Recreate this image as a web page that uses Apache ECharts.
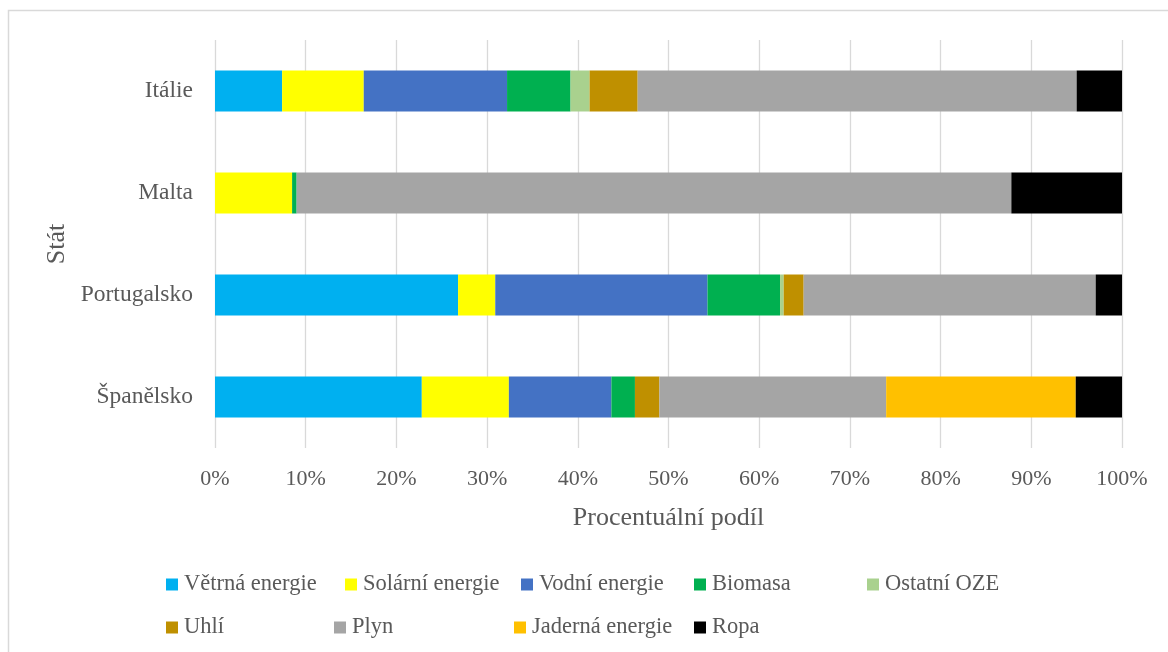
<!DOCTYPE html>
<html>
<head>
<meta charset="utf-8">
<title>Podíl zdrojů energie</title>
<script src="https://cdn.jsdelivr.net/npm/echarts@6/dist/echarts.min.js"></script>
<style>
  html, body { margin: 0; padding: 0; background: #fff; }
  #chart { width: 1168px; height: 652px; }
</style>
</head>
<body>
<div id="chart"></div>
<script>
// kategorie (shora dolů)
var states = ["Itálie", "Malta", "Portugalsko", "Španělsko"];
var tickLabels = ["0%", "10%", "20%", "30%", "40%", "50%", "60%", "70%", "80%", "90%", "100%"];

// podíly v %, pořadí jako states
var vetrna   = [7.4, 0,    26.8, 22.8];
var solarni  = [9.0, 8.5,  4.1,  9.6];
var vodni    = [15.8, 0,   23.4, 11.3];
var biomasa  = [7.0, 0.5,  8.0,  2.6];
var ostatni  = [2.1, 0,    0.4,  0];
var uhli     = [5.3, 0,    2.2,  2.7];
var plyn     = [48.4, 78.8, 32.2, 25.0];
var jaderna  = [0,   0,    0,    20.9];
var ropa     = [5.0, 12.2, 2.9,  5.1];

var seriesNames = ["Větrná energie", "Solární energie", "Vodní energie", "Biomasa", "Ostatní OZE",
  "Uhlí", "Plyn", "Jaderná energie", "Ropa"];
var seriesData = [vetrna, solarni, vodni, biomasa, ostatni, uhli, plyn, jaderna, ropa];
var colors = ["#00B0F0", "#FFFF00", "#4472C4", "#00B050", "#A9D18E", "#BF9000", "#A5A5A5", "#FFC000", "#000000"];

var font = "Liberation Serif";
var textColor = "#595959";

// rozmístění legendy (jako v Excelu - dva řádky)
var legendPos = [
  [166, 573], [345, 573], [521, 573], [694, 573], [867, 573],
  [166, 616], [334, 616], [514, 616], [694, 616]
];

var chart = echarts.init(document.getElementById("chart"));

var legends = seriesNames.map(function (name, i) {
  return {
    data: [name],
    left: legendPos[i][0],
    top: legendPos[i][1],
    padding: 0,
    icon: "rect",
    itemWidth: 12,
    itemHeight: 12,
    selectedMode: false,
    textStyle: { fontFamily: font, fontSize: 22.5, color: textColor, padding: [0, 0, 0, 1] }
  };
});

chart.setOption({
  animation: false,
  backgroundColor: "#fff",
  color: colors,
  grid: { left: 215, right: 46, top: 40, bottom: 204 },
  graphic: [{
    type: "rect",
    shape: { x: 8.5, y: 10.5, width: 1200, height: 700 },
    style: { fill: "none", stroke: "#d9d9d9", lineWidth: 1.5 },
    silent: true
  }],
  legend: legends,
  xAxis: {
    type: "value",
    min: 0,
    max: 100,
    interval: 10,
    name: "Procentuální podíl",
    nameLocation: "middle",
    nameGap: 57,
    nameTextStyle: { fontFamily: font, fontSize: 26, color: textColor },
    axisLine: { show: false },
    axisTick: { show: false },
    axisLabel: {
      margin: 20,
      fontFamily: font,
      fontSize: 22,
      color: textColor,
      formatter: function (v) { return tickLabels[Math.round(v / 10)]; }
    },
    splitLine: { show: true, lineStyle: { color: "#d9d9d9", width: 1.3 } }
  },
  yAxis: {
    type: "category",
    inverse: true,
    data: states,
    name: "Stát",
    nameLocation: "middle",
    nameRotate: 90,
    nameGap: 143,
    nameTextStyle: { fontFamily: font, fontSize: 26, color: textColor },
    axisLine: { show: false },
    axisTick: { show: false },
    axisLabel: { margin: 22, fontFamily: font, fontSize: 23.5, color: textColor }
  },
  series: seriesNames.map(function (name, i) {
    return {
      name: name,
      type: "bar",
      stack: "total",
      barWidth: 41,
      data: seriesData[i]
    };
  })
});
</script>
</body>
</html>
